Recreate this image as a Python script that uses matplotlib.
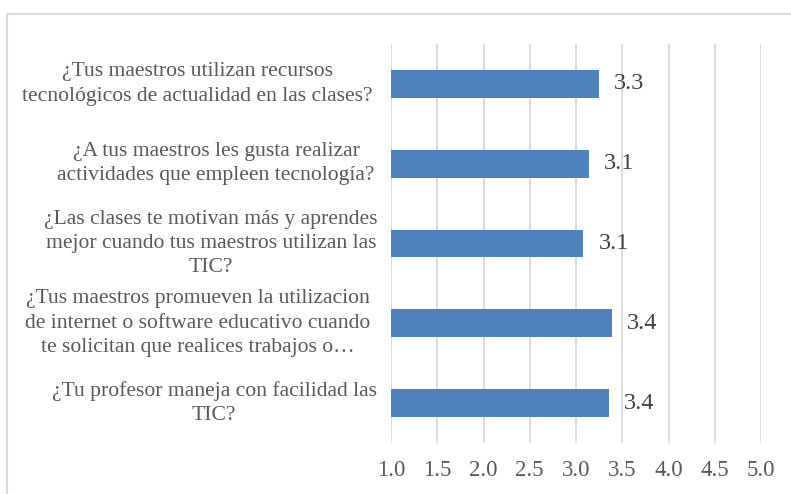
import matplotlib
matplotlib.use("Agg")
import matplotlib.pyplot as plt
from matplotlib.lines import Line2D

categories = [
    "¿Tus maestros utilizan recursos\ntecnológicos de actualidad en las clases?",
    "¿A tus maestros les gusta realizar\nactividades que empleen tecnología?",
    "¿Las clases te motivan más y aprendes\nmejor cuando tus maestros utilizan las\nTIC?",
    "¿Tus maestros promueven la utilizacion\nde internet o software educativo cuando\nte solicitan que realices trabajos o…",
    "¿Tu profesor maneja con facilidad las\nTIC?",
]
values = [3.25, 3.14, 3.08, 3.39, 3.36]
value_labels = ["3.3", "3.1", "3.1", "3.4", "3.4"]
xticks = [1.0, 1.5, 2.0, 2.5, 3.0, 3.5, 4.0, 4.5, 5.0]

# layout: horizontal centre (pixels) of each category label block
label_centres_px = [197, 216, 211, 198, 214]

W, H = 791, 494
fig = plt.figure(figsize=(W / 100, H / 100), dpi=100)
plt.rcParams['font.family'] = ['Liberation Serif', 'DejaVu Serif']

ax = fig.add_axes([391 / W, 1 - 443 / H, (761 - 391) / W, (443 - 44) / H])
txt_col = "#595959"
bar_col = "#4F81BD"
grid_col = "#D9D9D9"

ypos = list(range(len(categories)))
ax.barh(ypos, [v - 1.0 for v in values], left=1.0, height=0.35, color=bar_col, zorder=3)
ax.set_xlim(1.0, 5.0)
ax.set_ylim(len(categories) - 0.5, -0.5)
ax.set_xticks(xticks)
ax.set_xticklabels([f"{t:.1f}" for t in xticks], fontsize=16.5, color=txt_col)
ax.tick_params(axis='x', length=0, pad=12)
ax.set_yticks([])
for s in ax.spines.values():
    s.set_visible(False)
for t in xticks:
    ax.axvline(t, color=grid_col, lw=1.3, zorder=1)

for y, v, lab in zip(ypos, values, value_labels):
    ax.annotate(lab, xy=(v, y), xytext=(15, 0), textcoords='offset pixels',
                ha='left', va='center', fontsize=17.5, color="#404040")

for y, c, cx in zip(ypos, categories, label_centres_px):
    lx = (cx - 391) / (761 - 391)
    ax.text(lx, y, c, transform=ax.get_yaxis_transform(), ha='center', va='center',
            multialignment='center', fontsize=15.6, color=txt_col, linespacing=1.38)

# outer chart frame (partially visible)
fig.add_artist(Line2D([7 / W, 1.0], [1 - 14 / H, 1 - 14 / H], color=grid_col, lw=1.5, transform=fig.transFigure))
fig.add_artist(Line2D([7 / W, 7 / W], [0.0, 1 - 14 / H], color=grid_col, lw=1.5, transform=fig.transFigure))

fig.savefig("out.png", dpi=100)
